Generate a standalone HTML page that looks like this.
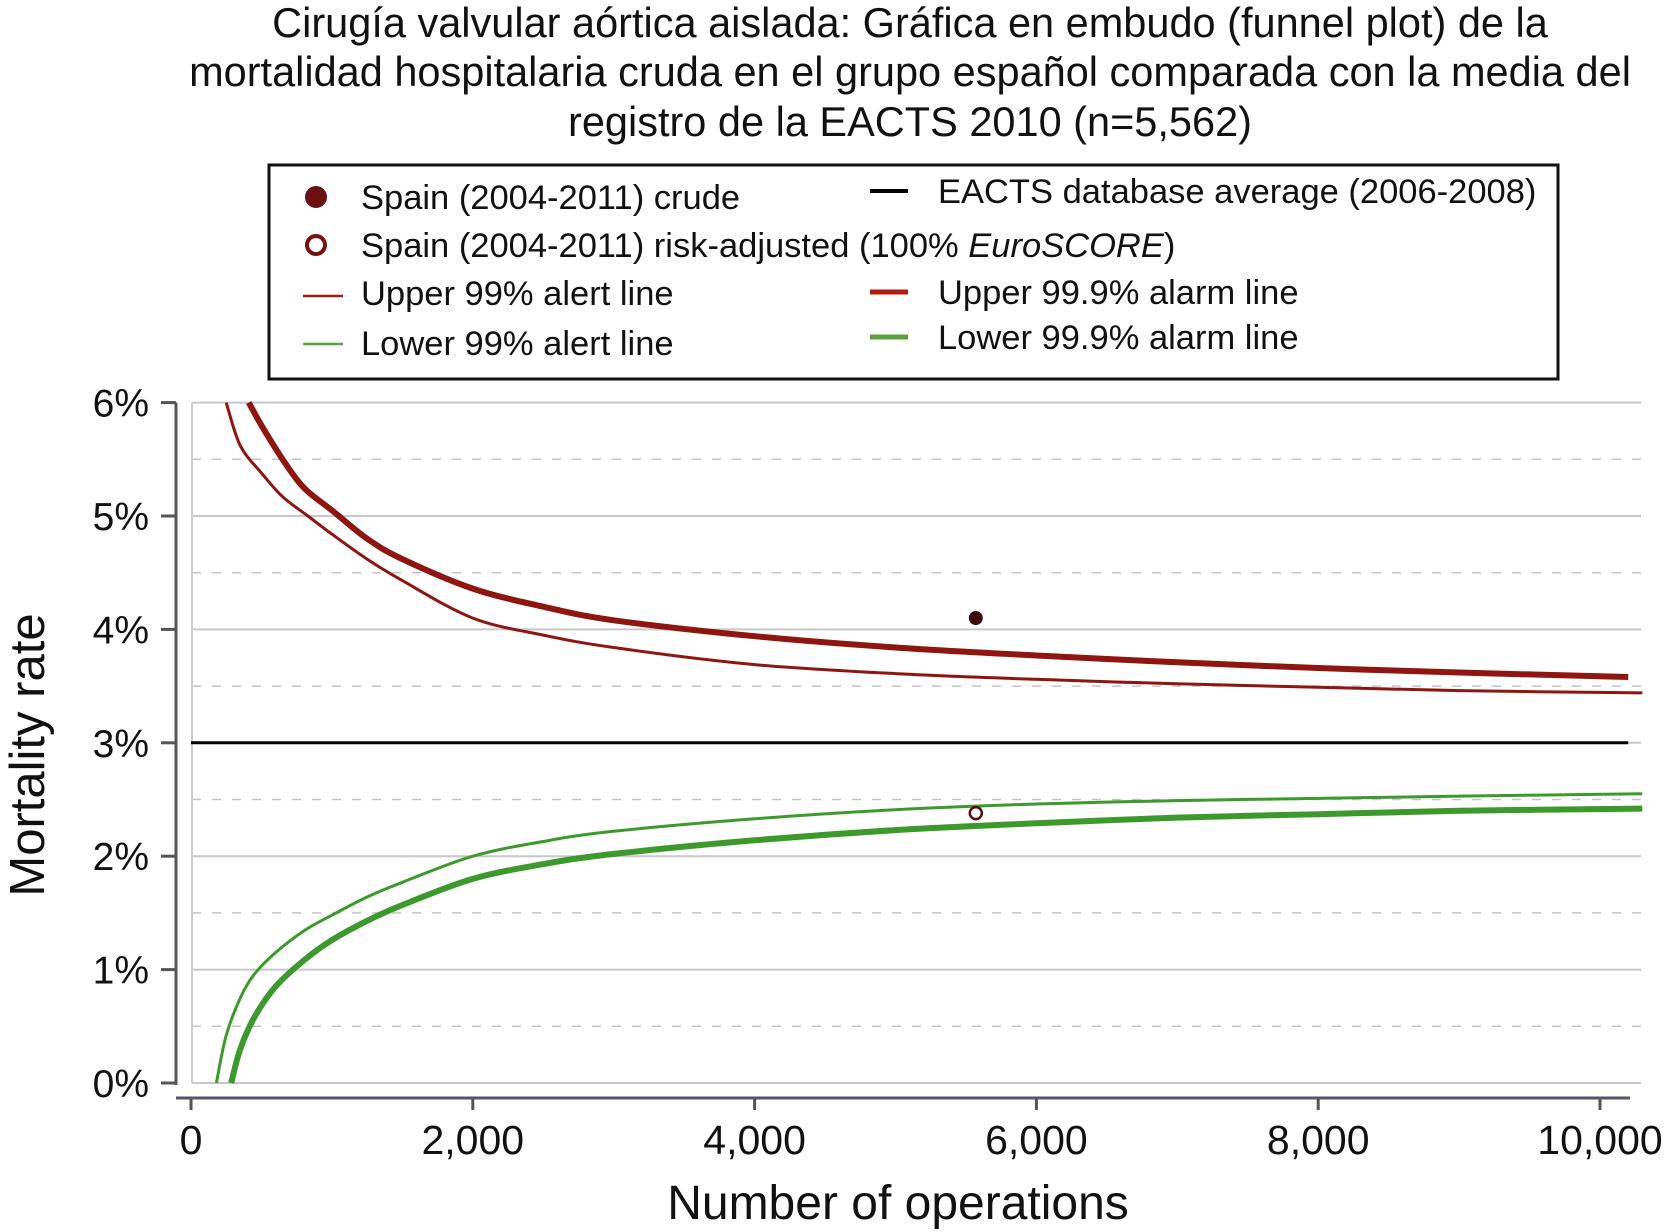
<!DOCTYPE html>
<html><head><meta charset="utf-8"><style>
body{margin:0;background:#fff}
svg{display:block;font-family:"Liberation Sans",sans-serif}
</style></head><body>
<svg id="c" width="1665" height="1232">
<g font-size="41.5" text-anchor="middle" fill="#111">
<text x="910" y="37">Cirugía valvular aórtica aislada: Gráfica en embudo (funnel plot) de la</text>
<text x="910" y="86">mortalidad hospitalaria cruda en el grupo español comparada con la media del</text>
<text x="910" y="136">registro de la EACTS 2010 (n=5,562)</text>
</g>
<g font-size="34.5" fill="#111">
<rect x="269" y="165" width="1289" height="214" fill="none" stroke="#111" stroke-width="3"/>
<circle cx="316" cy="197" r="11" fill="#6a1010"/><text x="361" y="209">Spain (2004-2011) crude</text>
<circle cx="316" cy="245" r="9" fill="#fff" stroke="#7a1010" stroke-width="4"/><text x="361" y="257">Spain (2004-2011) risk-adjusted (100% <tspan font-style="italic">EuroSCORE</tspan>)</text>
<line x1="303" y1="296" x2="343" y2="296" stroke="#a01a10" stroke-width="2.5"/><text x="361" y="305">Upper 99% alert line</text>
<line x1="303" y1="344" x2="343" y2="344" stroke="#5aa040" stroke-width="2.5"/><text x="361" y="355">Lower 99% alert line</text>
<line x1="870" y1="191" x2="908" y2="191" stroke="#000" stroke-width="4"/><text x="938" y="203">EACTS database average (2006-2008)</text>
<line x1="870" y1="292" x2="908" y2="292" stroke="#b01a10" stroke-width="5"/><text x="938" y="304">Upper 99.9% alarm line</text>
<line x1="870" y1="337" x2="908" y2="337" stroke="#5aa040" stroke-width="5"/><text x="938" y="349">Lower 99.9% alarm line</text>
</g>
<g id="grid"></g>
<g id="series"></g>
<g id="axes"></g>
<text x="898" y="1219" font-size="48" text-anchor="middle" fill="#111">Number of operations</text>
<text transform="translate(44,755) rotate(-90)" font-size="49" text-anchor="middle" fill="#111">Mortality rate</text>
</svg>
<script>
const yTicks=[0,1,2,3,4,5,6];
const yTickLabels=["0%","1%","2%","3%","4%","5%","6%"];
const xTicks=[0,2000,4000,6000,8000,10000];
const xTickLabels=["0","2,000","4,000","6,000","8,000","10,000"];
const average=3.0;
const up99N=[250,350,500,650,830,1000,1250,1500,2000,2500,3000,4000,5000,6000,7000,8000,9000,10300];
const up99V=[6.0,5.62,5.38,5.17,5.0,4.84,4.62,4.43,4.1,3.95,3.84,3.69,3.61,3.56,3.52,3.49,3.46,3.44];
const up999N=[410,500,650,800,1000,1250,1500,2000,2500,3000,4000,5000,6000,7000,8000,9000,10200];
const up999V=[6.0,5.8,5.5,5.25,5.05,4.8,4.62,4.36,4.2,4.08,3.94,3.84,3.77,3.71,3.66,3.62,3.58];
const lo99N=[180,250,350,450,600,800,1000,1250,1500,2000,2500,3000,4000,5000,6000,7000,8000,9000,10300];
const lo99V=[0,0.42,0.75,0.96,1.15,1.34,1.48,1.64,1.77,2.0,2.13,2.22,2.33,2.41,2.46,2.49,2.51,2.53,2.55];
const lo999N=[285,350,450,600,800,1000,1250,1500,2000,2500,3000,4000,5000,6000,7000,8000,9000,10300];
const lo999V=[0,0.3,0.58,0.85,1.08,1.26,1.43,1.57,1.8,1.93,2.02,2.14,2.23,2.29,2.34,2.37,2.40,2.42];
const crudeN=[5570];const crudeV=[4.1];
const adjN=[5570];const adjV=[2.38];
const NS="http://www.w3.org/2000/svg";
const X=n=>191+n*0.1409, Y=v=>1083-v*113.4;
function mk(tag,at,par){const e=document.createElementNS(NS,tag);for(const k in at)e.setAttribute(k,at[k]);document.getElementById(par).appendChild(e);return e;}
for(let v=0;v<=6;v+=0.5){
 const l=mk('line',{x1:192,x2:1641,y1:Y(v),y2:Y(v),stroke:Number.isInteger(v)?'#c8c8cc':'#c4c4c8','stroke-width':Number.isInteger(v)?2:1.5,'stroke-dasharray':Number.isInteger(v)?'none':'9 11'},'grid');
 
 
}
const vg=mk('line',{x1:192,x2:192,y1:Y(6),y2:Y(0),stroke:'#ccc','stroke-width':2},'grid');


function path(ns,vs,col,w,name){
 const P=ns.map((n,i)=>[X(n),Y(vs[i])]);
 let d='M'+P[0][0].toFixed(1)+' '+P[0][1].toFixed(1);
 for(let i=0;i<P.length-1;i++){
  const p0=P[Math.max(0,i-1)],p1=P[i],p2=P[i+1],p3=P[Math.min(P.length-1,i+2)];
  const c1=[p1[0]+(p2[0]-p0[0])/6,p1[1]+(p2[1]-p0[1])/6];
  const c2=[p2[0]-(p3[0]-p1[0])/6,p2[1]-(p3[1]-p1[1])/6];
  d+=' C'+c1[0].toFixed(1)+' '+c1[1].toFixed(1)+' '+c2[0].toFixed(1)+' '+c2[1].toFixed(1)+' '+p2[0].toFixed(1)+' '+p2[1].toFixed(1);
 }
 const p=mk('path',{d:d,fill:'none',stroke:col,'stroke-width':w,'stroke-linejoin':'round'},'series');
 
 
}
const avg=mk('line',{x1:X(0),x2:X(10200),y1:Y(average),y2:Y(average),stroke:'#000','stroke-width':3},'series');


path(up99N,up99V,'#8e1510',3,'upper-99-alert-line');
path(up999N,up999V,'#8e1510',6,'upper-999-alarm-line');
path(lo99N,lo99V,'#3c9a2c',3,'lower-99-alert-line');
path(lo999N,lo999V,'#3c9a2c',6,'lower-999-alarm-line');
crudeN.forEach((n,i)=>{const c=mk('circle',{cx:X(n),cy:Y(crudeV[i]),r:7,fill:'#3a0a0a'},'series');
 
 });
adjN.forEach((n,i)=>{const c=mk('circle',{cx:X(n),cy:Y(adjV[i]),r:6,fill:'#fff',stroke:'#5a0a0a','stroke-width':2.5},'series');
 
 });
const ya=mk('line',{x1:176,x2:176,y1:Y(6),y2:Y(0)+2,stroke:'#555','stroke-width':3},'axes');


const xa=mk('line',{x1:176,x2:1630,y1:1098,y2:1098,stroke:'#556','stroke-width':3},'axes');


yTicks.forEach((v,i)=>{
 mk('line',{x1:161,x2:176,y1:Y(v),y2:Y(v),stroke:'#555','stroke-width':3},'axes');
 const t=mk('text',{x:149,y:Y(v)+14,'font-size':39,'text-anchor':'end',fill:'#111'},'axes');
 t.textContent=yTickLabels[i];
 
 
});
xTicks.forEach((n,i)=>{
 mk('line',{x1:X(n),x2:X(n),y1:1098,y2:1110,stroke:'#555','stroke-width':3},'axes');
 const t=mk('text',{x:X(n),y:1154,'font-size':41,'text-anchor':'middle',fill:'#111'},'axes');
 t.textContent=xTickLabels[i];
 
 
});
</script>
</body></html>
